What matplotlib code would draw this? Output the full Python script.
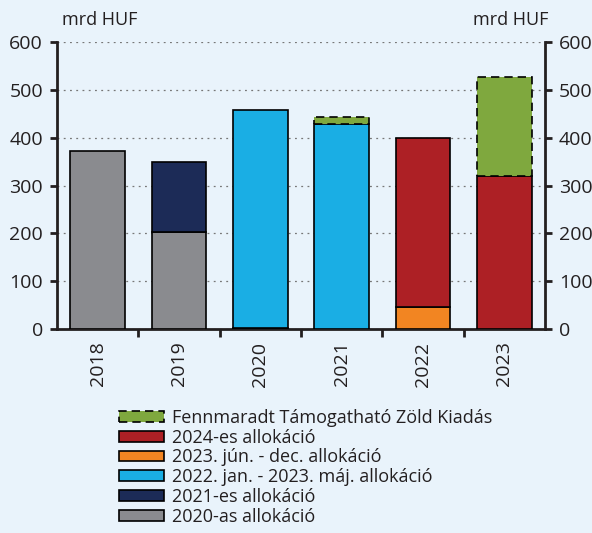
import matplotlib.pyplot as plt
import numpy as np
from matplotlib.patches import Patch

years = ["2018", "2019", "2020", "2021", "2022", "2023"]
alloc_2020 = [372, 202, 0, 0, 0, 0]
alloc_2021 = [0, 148, 2, 0, 0, 0]
alloc_2022_23 = [0, 0, 456, 429, 0, 0]
alloc_2023_jun = [0, 0, 0, 0, 47, 0]
alloc_2024 = [0, 0, 0, 0, 352, 319]
remaining = [0, 0, 0, 15, 0, 207]

labels = ["2020-as allokáció", "2021-es allokáció", "2022. jan. - 2023. máj. allokáció",
          "2023. jún. - dec. allokáció", "2024-es allokáció",
          "Fennmaradt Támogatható Zöld Kiadás"]
colors = ["#8a8b8f", "#1c2b57", "#1aaee4", "#f28522", "#ad2025", "#7fa83e"]
series = [alloc_2020, alloc_2021, alloc_2022_23, alloc_2023_jun, alloc_2024, remaining]

bg = "#e9f3fb"
dark = "#231f20"
plt.rcParams['font.family'] = ['Open Sans', 'DejaVu Sans']

fig = plt.figure(figsize=(5.92, 5.33), dpi=100, facecolor=bg)
ax = fig.add_axes([0.0963, 0.3827, 0.8243, 0.5385], facecolor=bg)

x = np.arange(len(years))
bottom = np.zeros(len(years))
for vals, col, lab in zip(series, colors, labels):
    vals = np.array(vals, dtype=float)
    dashed = lab.startswith("Fennmaradt")
    keep = vals > 0
    ax.bar(x[keep], vals[keep], 0.67, bottom=bottom[keep], color=col, edgecolor="black",
           linewidth=1.2, linestyle=(0, (5, 3)) if dashed else "-", zorder=3)
    bottom += vals

ax.set_xlim(-0.5, 5.5)
ax.set_ylim(0, 600)
ax.set_yticks(range(0, 601, 100))
ax.yaxis.grid(True, linestyle=(0, (1.5, 3.5)), color="#777777", linewidth=0.9, zorder=0)
ax.set_axisbelow(True)

ax.set_xticks(x)
ax.set_xticklabels(years, rotation=90, fontsize=14, color=dark)
ax.set_xticks(np.arange(0.5, 5.0, 1.0), minor=True)
ax.tick_params(axis="x", which="major", length=0, pad=9)
ax.tick_params(axis="x", which="minor", length=6, width=2, color=dark, direction="out")
ax.tick_params(axis="y", which="both", left=True, right=True, labelleft=True,
               labelright=True, length=5, width=2, color=dark, labelsize=14,
               labelcolor=dark, direction="out", pad=5)

for s in ["left", "right", "bottom"]:
    ax.spines[s].set_linewidth(2)
    ax.spines[s].set_color(dark)
ax.spines["top"].set_visible(False)

fig.text(0.105, 0.962, "mrd HUF", fontsize=13, color=dark, ha="left", va="center")
fig.text(0.926, 0.962, "mrd HUF", fontsize=13, color=dark, ha="right", va="center")

handles = []
for col, lab in zip(colors[::-1], labels[::-1]):
    dashed = lab.startswith("Fennmaradt")
    handles.append(Patch(facecolor=col, edgecolor="black", linewidth=1.2,
                         linestyle=(0, (5, 3)) if dashed else "-", label=lab))
fig.legend(handles=handles, loc="upper left", bbox_to_anchor=(0.186, 0.25),
           frameon=False, fontsize=13, handlelength=2.5, handleheight=0.55,
           labelspacing=0.1, handletextpad=0.45, borderpad=0, labelcolor=dark)

plt.savefig("out.png", dpi=100, facecolor=bg)
